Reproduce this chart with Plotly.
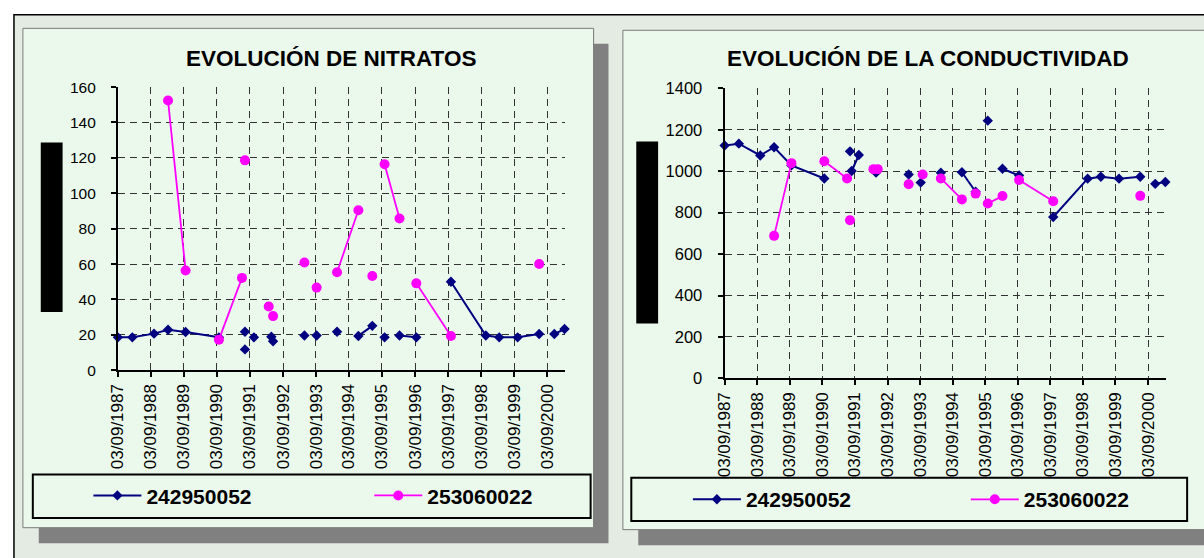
import pandas as pd
import plotly.graph_objects as go

W, H = 1204, 558

# Etiquetas del eje temporal (una por año, 3 de septiembre)
etiquetas_x = ["03/09/1987", "03/09/1988", "03/09/1989", "03/09/1990", "03/09/1991",
               "03/09/1992", "03/09/1993", "03/09/1994", "03/09/1995", "03/09/1996",
               "03/09/1997", "03/09/1998", "03/09/1999", "03/09/2000"]
rango_fechas = ["1987-09-03", "2001-03-18"]

# Cada serie es una lista de tramos; los puntos de un tramo van unidos por línea
nitratos_242950052 = [
    [("1987-09-03", 18.6), ("1988-02-10", 18.6), ("1988-10-07", 20.7), ("1989-03-11", 22.9),
     ("1989-09-21", 21.6), ("1990-09-25", 18.6)],
    [("1991-07-10", 21.8)],
    [("1991-07-10", 11.8)],
    [("1991-10-17", 18.6)],
    [("1992-04-27", 18.9)],
    [("1992-05-16", 16.4)],
    [("1993-04-28", 19.6)],
    [("1993-09-10", 19.6)],
    [("1994-04-24", 21.8)],
    [("1994-12-16", 19.4), ("1995-05-19", 25.1)],
    [("1995-10-02", 18.6)],
    [("1996-03-15", 19.6), ("1996-09-17", 18.6)],
    [("1997-10-05", 50.0), ("1998-10-26", 19.6), ("1999-03-23", 18.6), ("1999-10-13", 18.6),
     ("2000-06-07", 20.5)],
    [("2000-11-22", 20.5), ("2001-03-15", 23.3)],
]
nitratos_253060022 = [
    [("1989-03-11", 152.4), ("1989-09-21", 56.4)],
    [("1990-09-25", 17.3), ("1991-06-07", 52.2)],
    [("1991-07-10", 118.6)],
    [("1992-03-29", 36.0)],
    [("1992-05-16", 30.6)],
    [("1993-04-28", 60.9)],
    [("1993-09-10", 46.7)],
    [("1994-04-24", 55.4), ("1994-12-16", 90.4)],
    [("1995-05-19", 53.3)],
    [("1995-10-02", 116.4), ("1996-03-15", 85.8)],
    [("1996-09-17", 49.1), ("1997-10-05", 19.4)],
    [("2000-06-07", 60.0)],
]
conductividad_242950052 = [
    [("1987-09-03", 1124), ("1988-02-10", 1133), ("1988-10-07", 1076), ("1989-03-11", 1116),
     ("1989-09-21", 1028), ("1990-09-25", 965)],
    [("1991-07-10", 1096)],
    [("1991-07-29", 1001), ("1991-10-17", 1078)],
    [("1992-04-27", 993)],
    [("1993-04-28", 984)],
    [("1993-09-10", 945)],
    [("1994-04-24", 993)],
    [("1994-12-16", 995), ("1995-05-19", 901)],
    [("1995-10-02", 1244)],
    [("1996-03-15", 1012), ("1996-09-17", 979)],
    [("1997-10-05", 779), ("1998-10-26", 964), ("1999-03-23", 973), ("1999-10-13", 964),
     ("2000-06-07", 973)],
    [("2000-11-22", 939), ("2001-03-15", 948)],
]
conductividad_253060022 = [
    [("1989-03-11", 688), ("1989-09-21", 1039)],
    [("1990-09-25", 1048), ("1991-06-07", 965)],
    [("1991-07-10", 763)],
    [("1992-03-29", 1010)],
    [("1992-05-16", 1010)],
    [("1993-04-28", 937)],
    [("1993-10-02", 984)],
    [("1994-04-24", 965), ("1994-12-16", 864)],
    [("1995-05-19", 892)],
    [("1995-10-02", 844), ("1996-03-15", 880)],
    [("1996-09-17", 958), ("1997-10-05", 855)],
    [("2000-06-07", 881)],
]

NAVY = "#000080"
MAGENTA = "#FF00FF"
FONDO = "#E3EBE2"
PANEL = "#EBF9EC"
SOMBRA = "#808080"
FONT = "Arial, Liberation Sans, sans-serif"


def tramos(series):
    xs, ys = [], []
    for i, seg in enumerate(series):
        if i:
            xs.append(None)
            ys.append(None)
        for f, v in seg:
            xs.append(f)
            ys.append(v)
    return xs, ys


def px(x):
    return x / W


def py(y):
    return 1 - y / H


fig = go.Figure()


def serie(datos, nombre, color, simbolo, size, lw, eje_x, eje_y, leyenda):
    x, y = tramos(datos)
    fig.add_trace(go.Scatter(
        x=x, y=y, name=nombre, mode="lines+markers", connectgaps=False,
        line=dict(color=color, width=lw),
        marker=dict(symbol=simbolo, size=size, color=color),
        xaxis=eje_x, yaxis=eje_y, legend=leyenda, cliponaxis=False, showlegend=True,
    ))


serie(nitratos_242950052, "242950052", NAVY, "diamond", 8, 2, "x", "y", "legend")
serie(nitratos_253060022, "253060022", MAGENTA, "circle", 10, 1.8, "x", "y", "legend2")
serie(conductividad_242950052, "242950052", NAVY, "diamond", 8, 2, "x2", "y2", "legend3")
serie(conductividad_253060022, "253060022", MAGENTA, "circle", 10, 1.8, "x2", "y2", "legend4")

tickvals = pd.to_datetime(etiquetas_x, format="%d/%m/%Y")

grid = dict(showgrid=True, gridcolor="#333333", gridwidth=1.4, griddash="7px,5px",
            showline=True, linecolor="black", linewidth=2, ticks="outside",
            ticklen=5, tickwidth=1.5, tickcolor="black", zeroline=False)

ejex = dict(type="date", range=rango_fechas, tickvals=tickvals, ticktext=etiquetas_x,
            tickangle=-90, tickfont=dict(family=FONT, size=17, color="black"), **grid)

fig.update_layout(
    xaxis=dict(domain=[px(109.7), px(560)], anchor="y", **ejex),
    yaxis=dict(domain=[py(373.3), py(80.7)], anchor="x", range=[0, 160], dtick=20,
               ticklabelstandoff=12, tickfont=dict(family=FONT, size=15.5, color="black"),
               **grid),
    xaxis2=dict(domain=[px(721), px(1165.3)], anchor="y2", **ejex),
    yaxis2=dict(domain=[py(381.7), py(82)], anchor="x2", range=[0, 1400], dtick=200,
                ticklabelstandoff=12, tickfont=dict(family=FONT, size=16.5, color="black"),
                **grid),
)

# Fondo, marcos, sombras y cajas de leyenda
shapes = [
    dict(type="rect", x0=px(5), x1=px(1215), y0=py(6), y1=py(570),
         fillcolor=FONDO, line=dict(color="black", width=1.5)),
    dict(type="rect", x0=px(30), x1=px(604), y0=py(36), y1=py(552),
         fillcolor=SOMBRA, line=dict(width=0)),
    dict(type="rect", x0=px(14), x1=px(589), y0=py(20), y1=py(536),
         fillcolor=PANEL, line=dict(color="#7a7a7a", width=1)),
    dict(type="rect", x0=px(634), x1=px(1230), y0=py(38), y1=py(554),
         fillcolor=SOMBRA, line=dict(width=0)),
    dict(type="rect", x0=px(618.5), x1=px(1220), y0=py(22), y1=py(538),
         fillcolor=PANEL, line=dict(color="#7a7a7a", width=1)),
    dict(type="rect", x0=px(24), x1=px(586), y0=py(481), y1=py(526),
         fillcolor=PANEL, line=dict(color="black", width=2)),
    dict(type="rect", x0=px(627), x1=px(1187), y0=py(484.5), y1=py(529),
         fillcolor=PANEL, line=dict(color="black", width=2)),
    dict(type="rect", x0=px(32), x1=px(54), y0=py(138), y1=py(313),
         fillcolor="black", line=dict(width=0)),
    dict(type="rect", x0=px(632), x1=px(654), y0=py(137), y1=py(325),
         fillcolor="black", line=dict(width=0)),
]
for s in shapes:
    s.update(xref="paper", yref="paper", layer="below")

leyenda = dict(orientation="v", xanchor="left", yanchor="middle", bgcolor="rgba(0,0,0,0)",
               borderwidth=0, itemwidth=48,
               font=dict(family=FONT, size=21, color="black", weight="bold"))

titulo = dict(xref="paper", yref="paper", xanchor="center", yanchor="middle",
              showarrow=False, font=dict(family=FONT, size=22.5, color="black"))

fig.update_layout(
    width=W, height=H, margin=dict(l=0, r=0, t=0, b=0),
    paper_bgcolor="white", plot_bgcolor="rgba(0,0,0,0)",
    showlegend=True,
    shapes=shapes,
    legend=dict(x=px(80), y=py(503), **leyenda),
    legend2=dict(x=px(363), y=py(503), **leyenda),
    legend3=dict(x=px(684), y=py(507), **leyenda),
    legend4=dict(x=px(964), y=py(507), **leyenda),
    annotations=[
        dict(text="<b>EVOLUCIÓN DE NITRATOS</b>", x=px(324), y=py(51), **titulo),
        dict(text="<b>EVOLUCIÓN DE LA CONDUCTIVIDAD</b>", x=px(926), y=py(51), **titulo),
    ],
)

fig.write_html("out.html")
